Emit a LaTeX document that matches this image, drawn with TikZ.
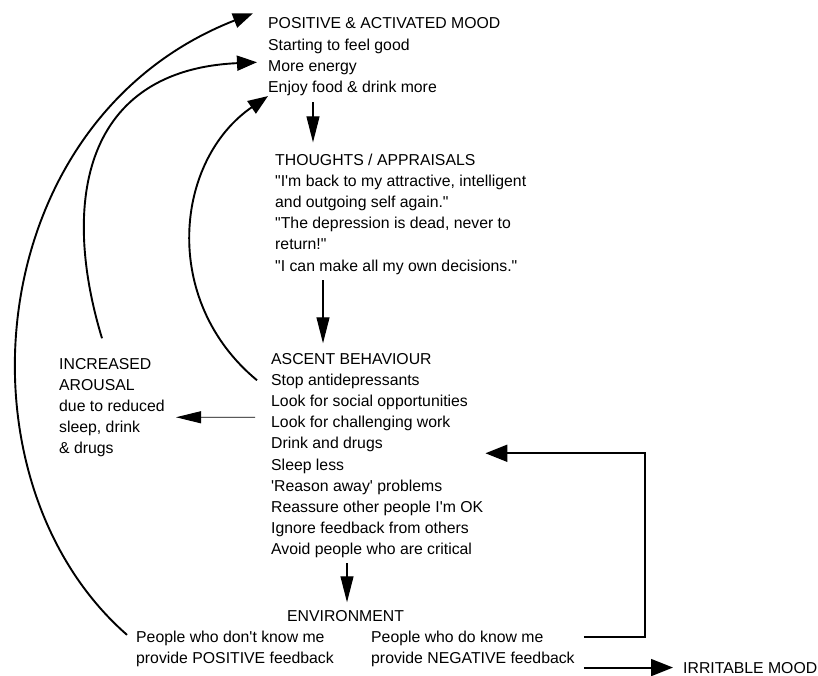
\documentclass[tikz,border=0pt]{standalone}
\usepackage{fontspec}
\newfontfamily\diagfont{Liberation Sans}
\usepackage{tikz}
\usetikzlibrary{arrows.meta,calc}
\tikzstyle{block} = [anchor=base west, align=left, inner sep=0pt, font=\diagfont\fontsize{15.8}{21.2}\selectfont]
\tikzstyle{loop edge} = [draw, line width=1.9pt, -{Triangle[length=20pt,width=15pt]}]
\tikzstyle{step edge} = [draw, line width=1.1pt, -{Triangle[length=26pt,width=13pt]}]
\tikzstyle{side edge} = [draw, line width=0.9pt, -{Triangle[length=25pt,width=12pt]}]
\tikzstyle{feedback edge} = [draw, line width=1.9pt, -{Triangle[length=22pt,width=17pt]}]

\begin{document}
\begin{tikzpicture}[x=1pt, y=1pt]
    \useasboundingbox (0,0) rectangle (818,-676);
    	% draw the text blocks (base = last line)
    	\node[block] (mood) at (268,-92.6) {POSITIVE \& ACTIVATED MOOD\\Starting to feel good\\More energy\\Enjoy food \& drink more};
    	\node[block] (thoughts) at (275,-271) {THOUGHTS / APPRAISALS\\"I'm back to my attractive, intelligent\\and outgoing self again."\\"The depression is dead, never to\\return!"\\"I can make all my own decisions."};
    	\node[block] (ascent) at (271,-554.8) {ASCENT BEHAVIOUR\\Stop antidepressants\\Look for social opportunities\\Look for challenging work\\Drink and drugs\\Sleep less\\'Reason away' problems\\Reassure other people I'm OK\\Ignore feedback from others\\Avoid people who are critical};
    	\node[block] (arousal) at (59,-453.8) {INCREASED\\AROUSAL\\due to reduced\\sleep, drink\\\& drugs};
    	\node[block] (env) at (287,-621) {ENVIRONMENT};
    	\node[block] (posfb) at (136,-663.2) {People who don't know me\\provide POSITIVE feedback};
    	\node[block] (negfb) at (371,-663.2) {People who do know me\\provide NEGATIVE feedback};
    	\node[block] (irritable) at (683,-673) {IRRITABLE MOOD};

    	% straight steps down the page
    	\path[step edge] ([xshift=45pt, yshift=-6pt] mood.south west) -- ([xshift=38pt, yshift=11pt] thoughts.north west);
    	\path[step edge] ([xshift=48pt, yshift=-6pt] thoughts.south west) -- ([xshift=52pt, yshift=9.5pt] ascent.north west);
    	\path[step edge] ([xshift=76pt, yshift=-5pt] ascent.south west) -- ([xshift=60pt, yshift=7.5pt] env.north west);
    	\path[side edge] ([xshift=-16pt, yshift=-64.5pt] ascent.north west) -- ([xshift=117pt, yshift=-59.5pt] arousal.north west);

    	% feedback from people who do know me
    	\path[feedback edge] ([xshift=9pt, yshift=-6.5pt] negfb.north east) -- ++(61pt,0) |- ([xshift=2pt, yshift=-100.5pt] ascent.north east);
    	\path[feedback edge] ($(irritable.west -| negfb.east)+(9pt,0)$) -- ([xshift=-10pt] irritable.west);

    	% loops back up to the mood
    	\path[loop edge] ([xshift=-9pt, yshift=-4.5pt] posfb.north west) .. controls (-50,-480) and (-20,-120) .. ([xshift=-15pt, yshift=4.5pt] mood.north west);
    	\path[loop edge] ([xshift=43pt, yshift=19.5pt] arousal.north west) .. controls (60,-200) and (85,-70) .. ([xshift=-11pt, yshift=-44.5pt] mood.north west);
    	\path[loop edge] ([xshift=-14pt, yshift=-27.5pt] ascent.north west) .. controls (160,-300) and (175,-160) .. (mood.south west);
\end{tikzpicture}
\end{document}
